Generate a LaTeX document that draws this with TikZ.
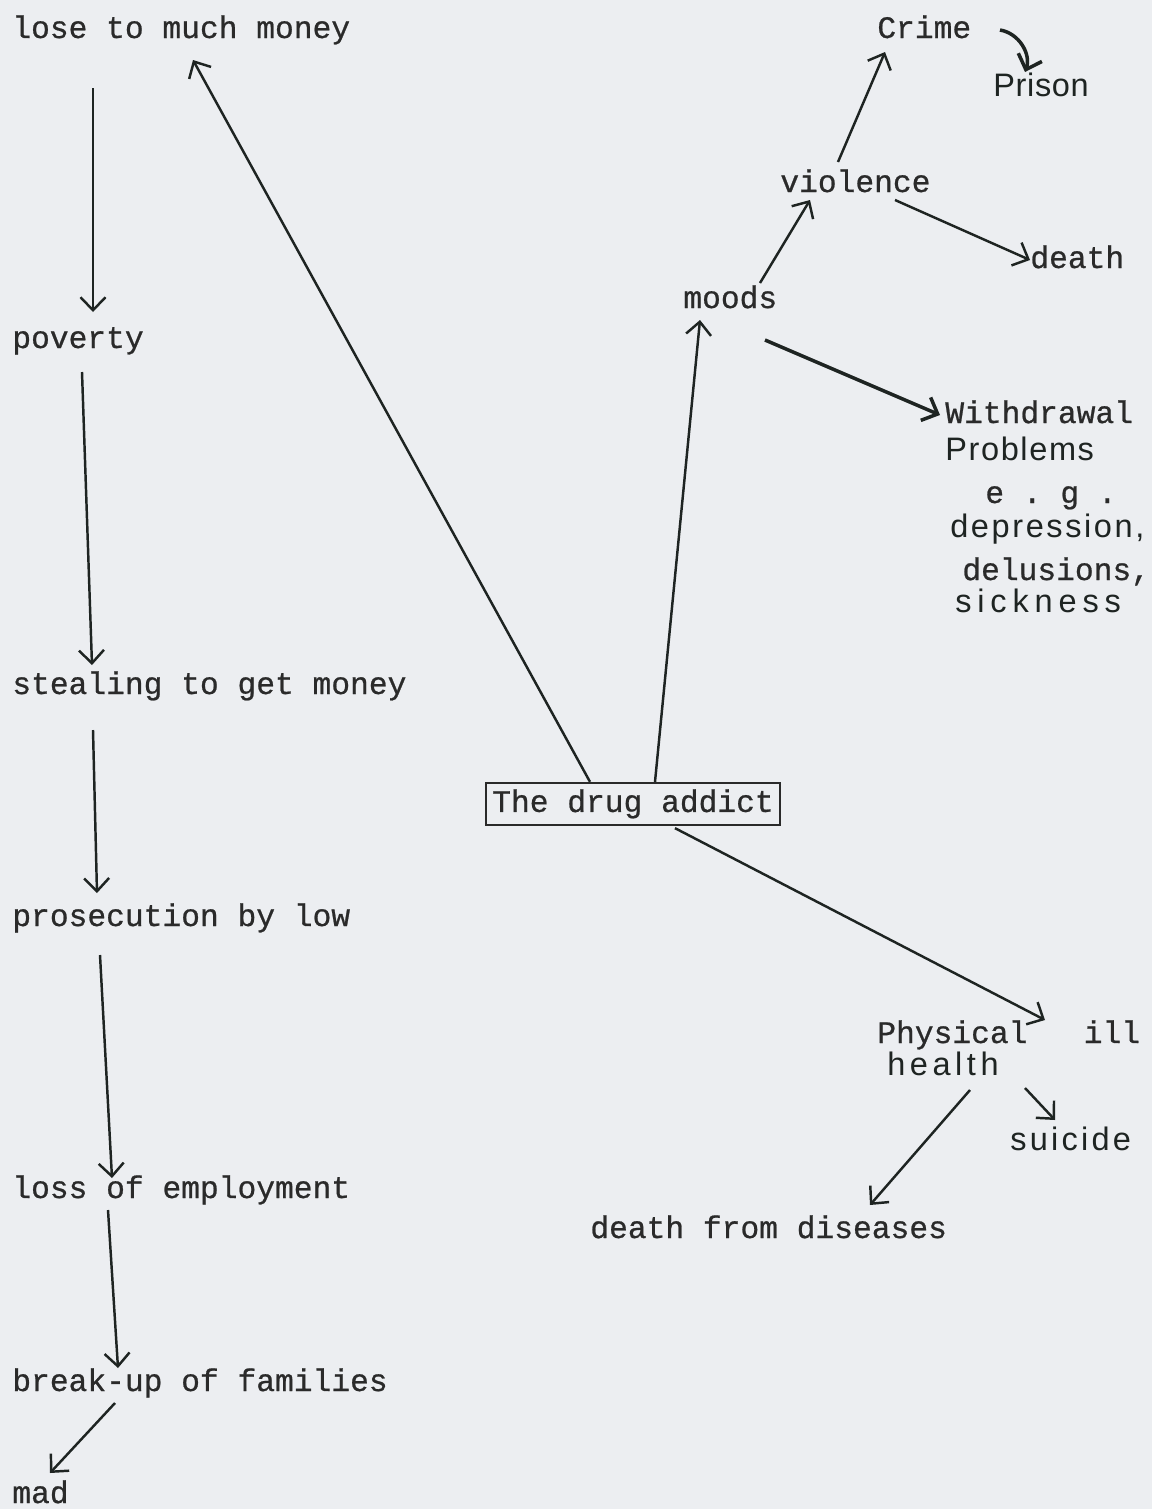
\documentclass[tikz,border=0pt]{standalone}
\usepackage{fontspec}
\setmonofont[BoldFont=Liberation Mono,BoldFeatures={FakeBold=0.7}]{Liberation Mono}
\newfontfamily\handfont{Liberation Sans}
\usetikzlibrary{calc,positioning,arrows.meta}
\definecolor{paper}{RGB}{236,238,241}
\definecolor{ink}{RGB}{42,42,42}
\definecolor{pen}{RGB}{30,36,34}

\begin{document}
\begin{tikzpicture}[x=0.02cm,y=-0.02cm,>={Straight Barb[length=2.6mm,width=5mm]}]
  \useasboundingbox (0,0) rectangle (1152,1509);
  \fill [paper] (0,0) rectangle (1152,1509);
  \tikzset{
    typed/.style={anchor=base west,inner sep=0pt,text=ink,font=\ttfamily\bfseries\fontsize{17.8}{21}\selectfont},
    handWritten/.style={anchor=base west,inner sep=0pt,text=pen,
      font=\handfont\fontsize{18.5}{22}\selectfont\addfontfeature{LetterSpace=#1}},
    handWritten/.default=0,
    boxed/.style={draw=ink,line width=1.2pt,inner sep=3.5pt,text height=13pt,text depth=4pt,text=ink,font=\ttfamily\bfseries\fontsize{17.8}{21}\selectfont},
    % edge styles
    post/.style={->,draw=pen,line width=1.4pt},
    postThick/.style={->,draw=pen,line width=2pt}
  }

  %% Left column
  \node [typed] (loseMoney) at (12,38) {lose to much money};
  \node [typed] (poverty) at (12,348) {poverty};
  \node [typed] (stealing) at (12,694) {stealing to get money};
  \node [typed] (prosecution) at (12,926) {prosecution by low};
  \node [typed] (lossJob) at (12,1198) {loss of employment};
  \node [typed] (breakUp) at (12,1391) {break-up of families};
  \node [typed] (mad) at (12,1503) {mad};

  \draw [post] ($(loseMoney.base west)+(81,50)$) -- ($(poverty.base west)+(81,-36)$);
  \draw [post] ($(poverty.base west)+(70,24)$) -- ($(stealing.base west)+(80,-29)$);
  \draw [post] ($(stealing.base west)+(81,36)$) -- ($(prosecution.base west)+(85,-33)$);
  \draw [post] ($(prosecution.base west)+(88,29)$) -- ($(lossJob.base west)+(100,-20)$);
  \draw [post] ($(lossJob.base west)+(96,12)$) -- ($(breakUp.base west)+(106,-23)$);
  \draw [post] ($(breakUp.base west)+(103,12)$) -- ($(mad.base west)+(38,-30)$);

  %% Centre
  \node [boxed] (addict) at (633,804) {The drug addict};
  \draw [post] ($(addict.north)+(-43,0)$) -- ($(loseMoney.base west)+(181,22)$);

  %% Moods branch
  \node [typed] (moods) at (683,308) {moods};
  \node [typed] (violence) at (780,192) {violence};
  \node [typed] (crime) at (877,38) {Crime};
  \node [handWritten=2] (prison) at (993,96) {Prison};
  \node [typed] (death) at (1030,268) {death};
  \node [typed] (withdrawal) at (945,423) {Withdrawal};
  \node [handWritten=5] (problems) at (945,460) {Problems};
  \node [typed] (eg) at (985,503) {e . g .};
  \node [handWritten=8] (depression) at (950,537) {depression,};
  \node [typed] (delusions) at (962,580) {delusions,};
  \node [handWritten=18] (sickness) at (955,612) {sickness};

  \draw [post] ($(addict.north)+(22,0)$) -- ($(moods.base west)+(17,12)$);
  \draw [post] ($(moods.base west)+(77,-25)$) -- ($(violence.base west)+(30,8)$);
  \draw [post] ($(violence.base west)+(58,-30)$) -- ($(crime.base west)+(8,14)$);
  \draw [postThick] ($(crime.base west)+(123,-8)$) to [bend left=50] ($(prison.base west)+(32,-24)$);
  \draw [post] ($(violence.base west)+(115,8)$) -- ($(death.base west)+(0,-8)$);
  \draw [postThick] ($(moods.base west)+(82,32)$) -- ($(withdrawal.base west)+(-5,-8)$);

  %% Health branch
  \node [typed] (physical) at (877,1043) {Physical\ \ \ ill};
  \node [handWritten=14] (health) at (887,1075) {health};
  \node [handWritten=10] (suicide) at (1010,1150) {suicide};
  \node [typed] (diseases) at (590,1238) {death from diseases};

  \draw [post] ($(addict.south)+(42,2)$) -- ($(physical.base west)+(168,-23)$);
  \draw [post] ($(health.base west)+(83,15)$) -- ($(diseases.base west)+(280,-33)$);
  \draw [post] ($(health.base west)+(138,13)$) -- ($(suicide.base west)+(45,-30)$);

\end{tikzpicture}
\end{document}
